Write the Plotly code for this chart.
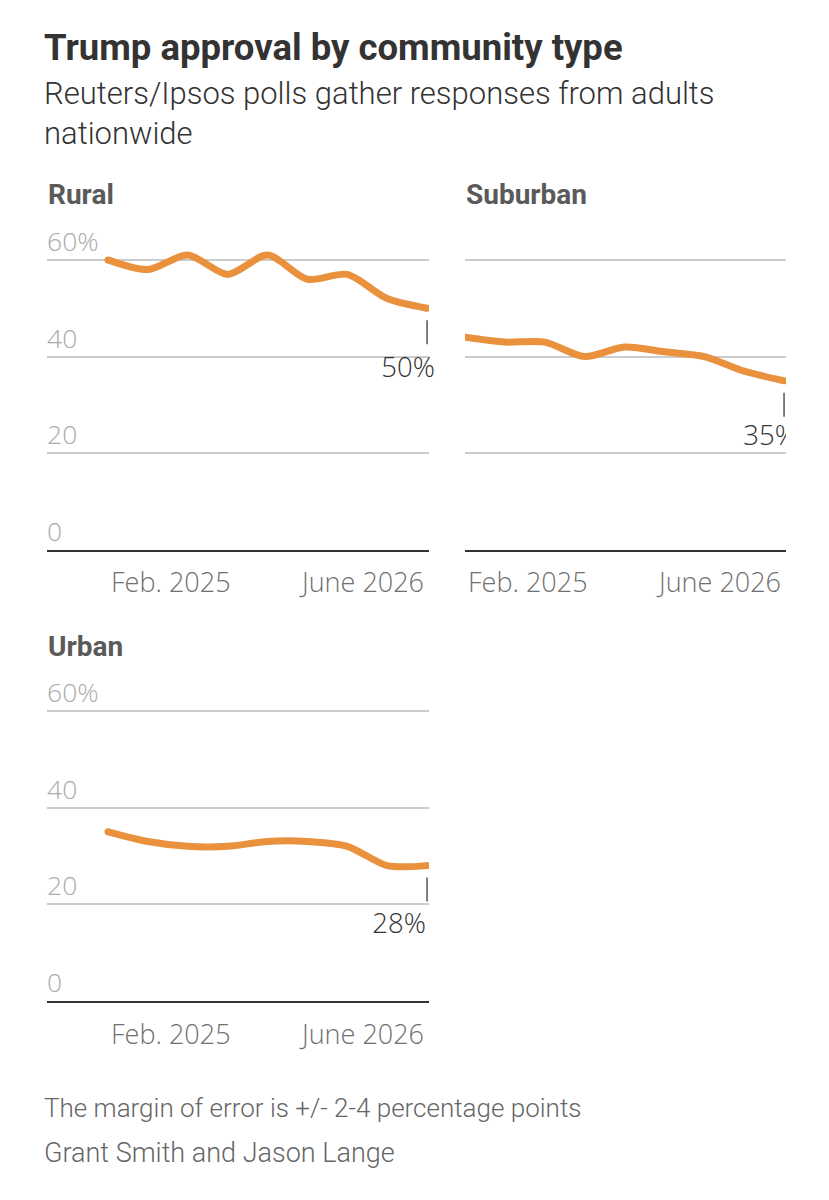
import plotly.graph_objects as go

# poll timing, months after Feb. 2025
months = [0, 2, 4, 6, 8, 10, 12, 14, 16]
rural = [60, 58, 61, 57, 61, 56, 57, 52, 50]
suburban = [44, 43, 43, 40, 42, 41, 40, 37, 35]
urban = [35, 33, 32, 32, 33, 33, 32, 28, 28]

y_ticks = [0, 20, 40, 60]
y_ticktext = ['0', '20', '40', '60%']
x_labels = ['Feb. 2025', 'June 2026']

W, H = 829, 1200
ORANGE = '#E9913D'
HEAD = 'Roboto'
BODY = 'Open Sans'
PPM = 19.94          # px per month
PPP = 4.835          # px per percentage point
YMAX = 63
LW = 7


def py(y):
    # y in px from the top -> paper fraction
    return 1 - y / H


panels = [
    dict(name='Rural', vals=rural, ax='', left=47, right=429, data_left=108, base=550,
         ylabels=True, lab_dx=-19, lab_dy=62, clip=False),
    dict(name='Suburban', vals=suburban, ax='2', left=465, right=786, data_left=465, base=550,
         ylabels=False, lab_dx=-14, lab_dy=57, clip=True),
    dict(name='Urban', vals=urban, ax='3', left=47, right=429, data_left=108, base=1001,
         ylabels=True, lab_dx=-28, lab_dy=61, clip=False),
]

fig = go.Figure()
annotations = []
shapes = []

for p in panels:
    xa = 'x' + p['ax']
    ya = 'y' + p['ax']
    last = p['vals'][-1]
    fig.add_trace(go.Scatter(
        x=months, y=p['vals'], mode='lines',
        line=dict(color=ORANGE, width=LW, shape='spline', smoothing=0.8),
        xaxis=xa, yaxis=ya, hoverinfo='skip', showlegend=False))
    # round the ends of the line
    fig.add_trace(go.Scatter(
        x=[months[0], months[-1]], y=[p['vals'][0], last], mode='markers',
        marker=dict(color=ORANGE, size=LW, line=dict(width=0)),
        xaxis=xa, yaxis=ya, hoverinfo='skip', showlegend=False))
    # end value label
    fig.add_trace(go.Scatter(
        x=[months[-1] + p['lab_dx'] / PPM], y=[last - p['lab_dy'] / PPP],
        mode='text', text=['%d%%' % last], textposition='middle center',
        textfont=dict(family=BODY, size=27.5, color='#333333', weight=300),
        cliponaxis=p['clip'], xaxis=xa, yaxis=ya, hoverinfo='skip', showlegend=False))

    top = p['base'] - YMAX * PPP
    xrange = [(p['left'] - p['data_left']) / PPM, (p['right'] - p['data_left']) / PPM]
    fig.update_layout(**{
        'xaxis' + p['ax']: dict(
            domain=[p['left'] / W, p['right'] / W], range=xrange, anchor=ya,
            showgrid=False, zeroline=False, showticklabels=False, ticks='',
            showline=True, linecolor='#333333', linewidth=2, fixedrange=True),
        'yaxis' + p['ax']: dict(
            domain=[py(p['base']), py(top)], range=[0, YMAX], anchor=xa,
            tickvals=y_ticks, showticklabels=False, ticks='',
            showgrid=True, gridcolor='#cccccc', gridwidth=1.5,
            zeroline=False, showline=False, fixedrange=True),
    })

    # value labels sitting above the gridlines
    if p['ylabels']:
        for tv, tt in zip(y_ticks, y_ticktext):
            annotations.append(dict(text=tt, xref=xa + ' domain', yref=ya, x=0, y=tv,
                                    xanchor='left', yanchor='middle', xshift=-2,
                                    yshift=19, showarrow=False,
                                    font=dict(family=BODY, size=26.5, color='#ababab',
                                              weight=300)))

    # small marker under the last point
    shapes.append(dict(type='line', xref=xa, yref=ya, x0=months[-1], x1=months[-1],
                       ysizemode='pixel', yanchor=last, y0=-12, y1=-36,
                       line=dict(color='#555555', width=1.5)))

    # panel title
    annotations.append(dict(text='<b>%s</b>' % p['name'], xref='paper', yref='paper',
                            x=(p['left'] - 1) / W, y=py(p['base'] - 355),
                            xanchor='left', yanchor='middle', showarrow=False,
                            font=dict(family=HEAD, size=28, color='#5a5a5a')))
    # date labels at start and end of the series
    for lbl, xv, anc, sh in [(x_labels[0], months[0], 'left', 1),
                             (x_labels[1], months[-1], 'right', -1)]:
        annotations.append(dict(text=lbl, xref=xa, yref=ya + ' domain', x=xv, y=0,
                                xanchor=anc, yanchor='middle', xshift=sh, yshift=-32,
                                showarrow=False,
                                font=dict(family=BODY, size=27, color='#707070', weight=300)))

# headings and footer
texts = [
    ('<b>Trump approval by community type</b>', 47, 36.5, '#333333', 700),
    ('Reuters/Ipsos polls gather responses from adults', 93, 31, '#333333', 300),
    ('nationwide', 133, 31, '#333333', 300),
    ('The margin of error is +/- 2-4 percentage points', 1108, 26, '#666666', 300),
    ('Grant Smith and Jason Lange', 1153, 27, '#666666', 300),
]
for t, yc, sz, col, wt in texts:
    annotations.append(dict(text=t, xref='paper', yref='paper', x=41.5 / W, y=py(yc),
                            xanchor='left', yanchor='middle', showarrow=False,
                            font=dict(family=HEAD, size=sz, color=col, weight=wt)))

fig.update_layout(
    width=W, height=H,
    margin=dict(t=0, l=0, r=0, b=0),
    paper_bgcolor='white', plot_bgcolor='white',
    annotations=annotations, shapes=shapes,
    showlegend=False,
)

page_fix = "document.body.style.margin='0px';"
fig.write_html('out.html', config={'displayModeBar': False}, post_script=page_fix)
